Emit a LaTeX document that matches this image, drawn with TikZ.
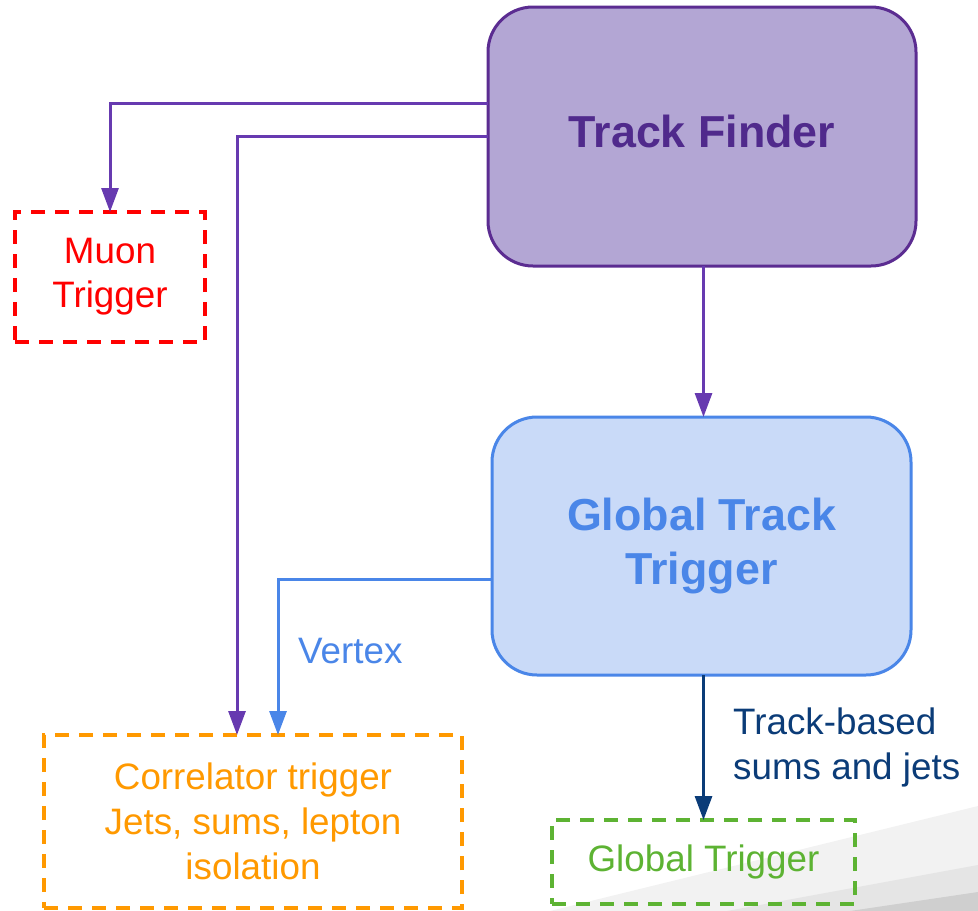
\documentclass[tikz,border=0pt]{standalone}
\usepackage{fontspec}
\setmainfont{Liberation Sans}
\usetikzlibrary{arrows.meta}
\definecolor{tfill}{HTML}{B3A6D4}
\definecolor{tborder}{HTML}{5B2C91}
\definecolor{ttext}{HTML}{502A8C}
\definecolor{tline}{HTML}{673AB0}
\definecolor{gfill}{HTML}{C9DAF8}
\definecolor{gblue}{HTML}{4A86E8}
\definecolor{navy}{HTML}{0B3C78}
\definecolor{orng}{HTML}{FF9900}
\definecolor{grn}{HTML}{5DB333}
\tikzset{
  bigbox/.style={draw, line width=3pt, rounded corners=45pt, outer sep=0pt, align=center,
    font=\fontsize{44.8}{54}\selectfont\bfseries},
  dbox/.style={draw, line width=3.3pt, dash pattern=on 14pt off 10pt, outer sep=0pt, align=center,
    font=\fontsize{36.8}{45}\selectfont},
  arr/.style={line width=3pt, -{Triangle[width=17pt,length=24pt]}},
  lbl/.style={font=\fontsize{36.8}{45}\selectfont, inner sep=0pt}
}
\begin{document}
\begin{tikzpicture}[x=1pt,y=-1pt]
\useasboundingbox (0,0) rectangle (978,911);
% background decoration
\fill[black!5] (978,806) -- (550,911) -- (978,911) -- cycle;
\fill[black!10] (978,865) -- (727,911) -- (978,911) -- cycle;
\fill[black!19] (978,892) -- (850,911) -- (978,911) -- cycle;
% nodes
\node[bigbox, fill=tfill, draw=tborder, minimum width=428pt, minimum height=259pt] (TF) at (702,136.5) {};
\node[text=ttext, font=\fontsize{44.8}{54}\selectfont\bfseries] (tft) at (702,131) {Track Finder};
\node[bigbox, fill=gfill, draw=gblue, text=gblue, minimum width=419pt, minimum height=258pt] (GTT) at (701.5,546) {Global Track\\Trigger};
\node[dbox, draw=red, text=red, minimum width=190pt, minimum height=130pt] (muon) at (110,277) {Muon\\[-1pt]Trigger};
\node[dbox, draw=orng, text=orng, minimum width=418pt, minimum height=173pt] (corr) at (253,821.5) {Correlator trigger\\Jets, sums, lepton\\isolation};
\node[dbox, draw=grn, text=grn, minimum width=303pt, minimum height=84pt] (GT) at (703.5,862) {Global Trigger};
% labels
\node[lbl, text=gblue, anchor=west] (vtx) at (298,651) {Vertex};
\node[lbl, text=navy, anchor=west, align=left] (tb) at (733,747) {Track-based\\sums and jets};
% connectors
\draw[arr, tline] ([yshift=33.5pt]TF.west) -| (muon.north);
\draw[arr, tline] (TF.west) -| ([xshift=-16pt]corr.north);
\draw[arr, tline] (TF.south -| GT.north) -- (GTT.north -| GT.north);
\draw[arr, gblue] ([yshift=-33pt]GTT.west) -| ([xshift=25pt]corr.north);
\draw[arr, navy] (GTT.south -| GT.north) -- (GT.north);
\end{tikzpicture}
\end{document}
